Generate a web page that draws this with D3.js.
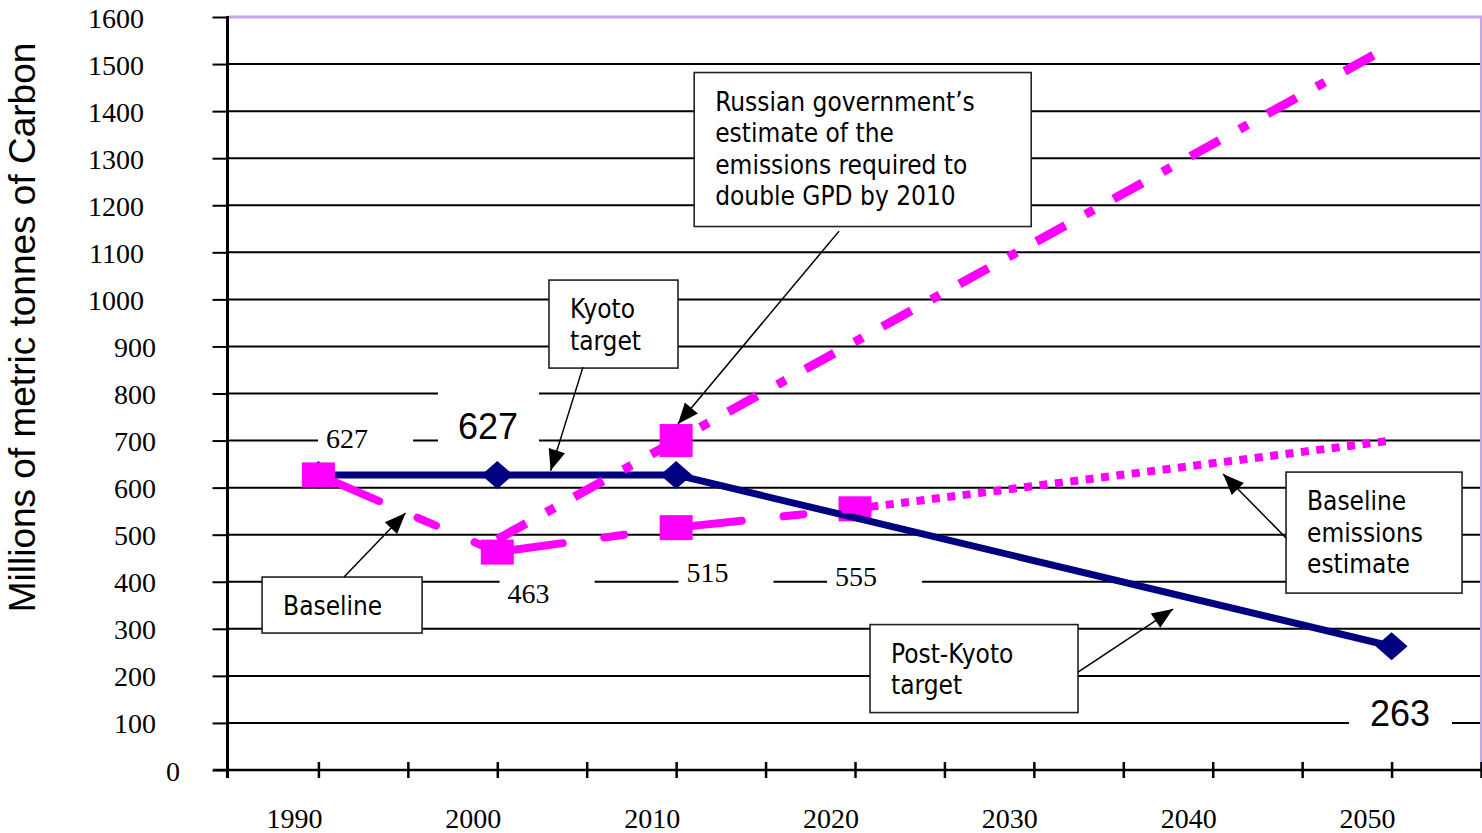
<!DOCTYPE html>
<html><head><meta charset="utf-8">
<script src="https://cdn.jsdelivr.net/npm/d3@7"></script>
<style>
html,body{margin:0;padding:0;background:#fff;}
svg{display:block;}
</style></head><body>
<svg id="c" width="1482" height="833"></svg>
<script>
// ---------------- data ----------------
const yTicks = [0,100,200,300,400,500,600,700,800,900,1000,1100,1200,1300,1400,1500,1600];
const xTicks = [1985,1990,1995,2000,2005,2010,2015,2020,2025,2030,2035,2040,2045,2050,2055];
const xLabelYears = [1990,2000,2010,2020,2030,2040,2050];

const kyotoYears  = [1990,2000,2010,2050];
const kyotoValues = [627,627,627,263];

const baselineYears  = [1990,2000,2010,2020];
const baselineValues = [627,463,515,555];
const baselineMarkerYears = [1990,2000,2010];

const estimateYears  = [2020,2050];
const estimateValues = [555,700];
const estimateMarkerYears = [2020];

const russiaYears  = [2000,2010,2050];
const russiaValues = [490,700,1540];
const russiaMarkerYears = [2010];

const yTitle = "Millions of metric tonnes of Carbon";

// data labels (values) and where they sit (year, value of text baseline)
const labelValues = [627, 627, 463, 515, 555, 263];
const labelAnchors = [[1991.6,684],[1999.48,703],[2001.75,355],[2011.75,400.5],[2020.06,390],[2050.47,93.5]];
const labelKinds = ["small","big","small","small","small","big2"];

// annotation call-outs
const noteTexts = [
  ["Russian government\u2019s","estimate of the","emissions required to","double GPD by 2010"],
  ["Kyoto","target"],
  ["Baseline"],
  ["Baseline","emissions","estimate"],
  ["Post-Kyoto","target"]
];
const noteAnchors = [[2011.01,1482],[2002.89,1041],[1986.85,410],[2044.1,633],[2020.84,309]];
const noteSizes = [[337,154],[129,88],[160,56],[176,121],[208,88]];
const arrowFrom = [[2019.11,1145],[2004.79,856],[1991.43,410],[2044.10,493],[2032.47,208]];
const arrowTo   = [[2010.10,735],[2002.98,636],[1994.87,546],[2040.58,629],[2037.78,342]];

// ---------------- drawing ----------------
const svg = d3.select("#c");
const x = d3.scaleLinear().domain([1985,2055]).range([229,1481]);
const y = d3.scaleLinear().domain([0,1600]).range([770,17]);

const MAG = "#ff00ff", NAVY = "#000080", PURPLE = "#c6a6f0";

const defs = svg.append("defs");
defs.append("marker").attr("id","ah")
  .attr("viewBox","-22 -10 24 20").attr("markerWidth",24).attr("markerHeight",20)
  .attr("refX",0).attr("refY",0).attr("orient","auto").attr("markerUnits","userSpaceOnUse")
  .append("path").attr("d","M0,0L-21,-8.5L-21,8.5Z").attr("fill","#000");

// gridlines
const grid = svg.append("g");
grid.selectAll("line").data(yTicks.filter(v=>v>0)).join("line")
  .attr("x1", x(1985)).attr("x2", 1482)
  .attr("y1", d=>y(d)).attr("y2", d=>y(d))
  .attr("stroke", d=> d===1600 ? PURPLE : "#000")
  .attr("stroke-width", d=> d===1600 ? 3 : 2);
// right border
svg.append("line").attr("x1",1481).attr("x2",1481).attr("y1",y(1600)).attr("y2",y(0))
  .attr("stroke",PURPLE).attr("stroke-width",2);

// y axis
const yAxis = svg.append("g").attr("transform","translate(227.5,0)")
  .call(d3.axisLeft(y).tickValues(yTicks).tickSize(15).tickSizeOuter(0).tickFormat(d3.format("d")));
yAxis.select(".domain").remove();
yAxis.selectAll(".tick line").attr("stroke","#000").attr("stroke-width",2);
yAxis.selectAll(".tick text")
  .attr("font-family","'Liberation Serif','Times New Roman',serif").attr("font-size",28)
  .attr("fill","#000").attr("dy",null).attr("dominant-baseline",null)
  .attr("y",10)
  .attr("x", function(d){ return -35.5 - 12*String(d).length; });
svg.append("line").attr("x1",227.5).attr("x2",227.5).attr("y1",y(1600)-1).attr("y2",y(0)+8)
  .attr("stroke","#000").attr("stroke-width",3);

// x axis
const xAxis = svg.append("g").attr("transform",`translate(0,${y(0)})`)
  .call(d3.axisBottom(x).tickValues(xTicks.filter(d=>d>1985)).tickSize(8).tickSizeOuter(0).tickFormat(""));
xAxis.select(".domain").remove();
xAxis.selectAll(".tick line").attr("y1",-8).attr("y2",8).attr("stroke","#000").attr("stroke-width",2.5);
svg.append("line").attr("x1",213).attr("x2",1482).attr("y1",y(0)).attr("y2",y(0))
  .attr("stroke","#000").attr("stroke-width",2.5);
svg.append("g").selectAll("text").data(xLabelYears).join("text")
  .attr("x", d=>x(d)-24).attr("y", y(0)+58)
  .attr("text-anchor","middle")
  .attr("font-family","'Liberation Serif','Times New Roman',serif").attr("font-size",28)
  .text(d=>d);

// y title
svg.append("text").attr("transform",`translate(35,${(y(0)+y(1600))/2 - 66}) rotate(-90)`)
  .attr("text-anchor","middle")
  .attr("font-family","'Liberation Sans',Arial,sans-serif").attr("font-size",37)
  .text(yTitle);

// data labels with white backgrounds
const labG = svg.append("g");
labelValues.forEach((v,i)=>{
  const cx = x(labelAnchors[i][0]), by = y(labelAnchors[i][1]);
  const k = labelKinds[i];
  let r;
  if (k==="small") r = {x:cx-29, y:by-35, w:95, h:45};
  else if (k==="big") r = {x:cx-50, y:by-50, w:101, h:75};
  else r = {x:cx-51, y:by-40, w:103, h:50};
  labG.append("rect").attr("x",r.x).attr("y",r.y).attr("width",r.w).attr("height",r.h).attr("fill","#fff");
  labG.append("text").attr("x",cx).attr("y",by).attr("text-anchor","middle")
    .attr("font-family", k==="small" ? "'Liberation Serif','Times New Roman',serif" : "'Liberation Sans',Arial,sans-serif")
    .attr("font-size", k==="small" ? 28 : 36)
    .text(v);
});

const line = d3.line().x(d=>x(d[0])).y(d=>y(d[1]));
const zip = (a,b)=>a.map((d,i)=>[d,b[i]]);
const sq = (g, years, years_all, vals, w, h) => {
  g.selectAll(null).data(years.map(yr=>[yr, vals[years_all.indexOf(yr)]])).join("rect")
    .attr("x",d=>x(d[0])-w/2).attr("y",d=>y(d[1])-h/2).attr("width",w).attr("height",h).attr("fill",MAG);
};

// estimate series (dotted)
const estG = svg.append("g");
estG.append("path").attr("d", line(zip(estimateYears, estimateValues)))
  .attr("fill","none").attr("stroke",MAG).attr("stroke-width",8).attr("stroke-dasharray","8 7.5");
sq(estG, estimateMarkerYears, estimateYears, estimateValues, 33, 25);

// Russian (dash-dot)
const rusG = svg.append("g");
rusG.append("path").attr("d", line(zip(russiaYears, russiaValues)))
  .attr("fill","none").attr("stroke",MAG).attr("stroke-width",9).attr("stroke-dasharray","33 23 9.5 22.5");

// Kyoto target
const kyG = svg.append("g");
kyG.append("path").attr("d", line(zip(kyotoYears, kyotoValues)))
  .attr("fill","none").attr("stroke",NAVY).attr("stroke-width",7).attr("stroke-linejoin","round");
kyG.selectAll(null).data(zip(kyotoYears, kyotoValues)).join("path")
  .attr("transform", d=>`translate(${x(d[0])},${y(d[1])})`)
  .attr("d","M-16,0L0,-14L16,0L0,14Z").attr("fill",NAVY);

// Baseline (dashed, restarting each segment)
const blG = svg.append("g");
const blPts = zip(baselineYears, baselineValues);
for (let i=0;i<blPts.length-1;i++){
  blG.append("path").attr("d", line([blPts[i], blPts[i+1]]))
    .attr("fill","none").attr("stroke",MAG).attr("stroke-width",8)
    .attr("stroke-linecap","round").attr("stroke-dasharray","66 42 20 42");
}
sq(blG, baselineMarkerYears, baselineYears, baselineValues, 33, 25);
sq(rusG.raise(), russiaMarkerYears, russiaYears, russiaValues, 33, 33);

// annotation call-outs
const noteG = svg.append("g");
noteTexts.forEach((lines,i)=>{
  const lx = x(noteAnchors[i][0]), ty = y(noteAnchors[i][1]);
  noteG.append("rect").attr("x",lx).attr("y",ty).attr("width",noteSizes[i][0]).attr("height",noteSizes[i][1])
    .attr("fill","#fff").attr("stroke","#222").attr("stroke-width",1.6);
  const t = noteG.append("text").attr("font-family","'DejaVu Sans Condensed','DejaVu Sans',sans-serif")
    .attr("font-stretch","condensed").attr("font-size",26).attr("fill","#000");
  lines.forEach((s,j)=>{
    t.append("tspan").attr("x",lx+21).attr("y",ty+38+31.5*j).text(s);
  });
});
arrowFrom.forEach((f,i)=>{
  noteG.append("line").attr("x1",x(f[0])).attr("y1",y(f[1]))
    .attr("x2",x(arrowTo[i][0])).attr("y2",y(arrowTo[i][1]))
    .attr("stroke","#000").attr("stroke-width",1.5).attr("marker-end","url(#ah)");
});
</script>
</body></html>
